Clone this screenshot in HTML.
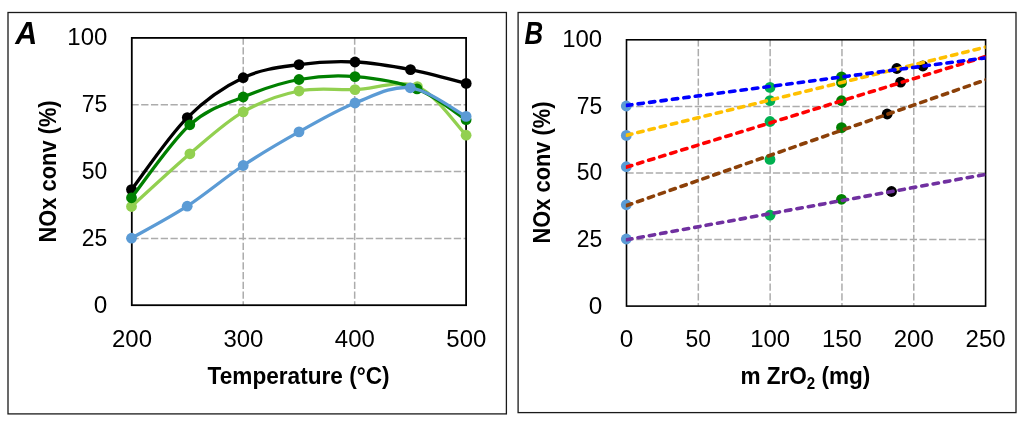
<!DOCTYPE html><html><head><meta charset="utf-8"><style>html,body{margin:0;padding:0;background:#fff;width:1024px;height:425px;overflow:hidden}svg{display:block;will-change:transform}text{font-family:"Liberation Sans", sans-serif}</style></head><body>
<svg width="1024" height="425" viewBox="0 0 1024 425">
<rect width="1024" height="425" fill="#fff"/>
<rect x="8.0" y="12.5" width="498.4" height="401.4" fill="none" stroke="#1a1a1a" stroke-width="1.3"/>
<rect x="518.1" y="12.5" width="497.9" height="400.1" fill="none" stroke="#1a1a1a" stroke-width="1.3"/>
<text x="15.2" y="43.7" font-size="30.5" font-weight="bold" font-style="italic" fill="#000">A</text>
<text x="524.6" y="43.7" font-size="30.5" font-weight="bold" font-style="italic" fill="#000" textLength="18.6" lengthAdjust="spacingAndGlyphs">B</text>
<line x1="131.80" y1="238.38" x2="466.10" y2="238.38" stroke="#acacac" stroke-width="1.5" stroke-dasharray="7.3 2.47" stroke-dashoffset="0.4"/>
<line x1="131.80" y1="171.55" x2="466.10" y2="171.55" stroke="#acacac" stroke-width="1.5" stroke-dasharray="7.3 2.47" stroke-dashoffset="0.4"/>
<line x1="131.80" y1="104.72" x2="466.10" y2="104.72" stroke="#acacac" stroke-width="1.5" stroke-dasharray="7.3 2.47" stroke-dashoffset="0.4"/>
<line x1="243.23" y1="37.90" x2="243.23" y2="305.20" stroke="#acacac" stroke-width="1.5" stroke-dasharray="7.3 2.47" stroke-dashoffset="0.4"/>
<line x1="354.67" y1="37.90" x2="354.67" y2="305.20" stroke="#acacac" stroke-width="1.5" stroke-dasharray="7.3 2.47" stroke-dashoffset="0.4"/>
<rect x="131.80" y="37.90" width="334.30" height="267.30" fill="none" stroke="#000" stroke-width="1.8"/>
<path d="M131.50,206.50 C141.23,197.72 171.28,169.57 189.90,153.80 C208.52,138.03 225.02,122.37 243.20,111.90 C261.38,101.43 280.37,94.72 299.00,91.00 C317.63,87.28 335.27,90.33 355.00,89.60 C374.73,88.87 398.88,79.00 417.40,86.60 C435.92,94.20 457.98,127.10 466.10,135.20" fill="none" stroke="#92d050" stroke-width="3.3" stroke-linejoin="round" stroke-linecap="round"/>
<circle cx="131.50" cy="206.50" r="5.4" fill="#92d050"/>
<circle cx="189.90" cy="153.80" r="5.4" fill="#92d050"/>
<circle cx="243.20" cy="111.90" r="5.4" fill="#92d050"/>
<circle cx="299.00" cy="91.00" r="5.4" fill="#92d050"/>
<circle cx="355.00" cy="89.60" r="5.4" fill="#92d050"/>
<circle cx="417.40" cy="86.60" r="5.4" fill="#92d050"/>
<circle cx="466.10" cy="135.20" r="5.4" fill="#92d050"/>
<path d="M131.50,189.60 C140.80,177.60 168.68,136.25 187.30,117.60 C205.92,98.95 224.58,86.53 243.20,77.70 C261.82,68.87 280.37,67.22 299.00,64.60 C317.63,61.98 336.42,61.17 355.00,62.00 C373.58,62.83 391.97,66.03 410.50,69.60 C429.03,73.17 456.92,81.10 466.20,83.40" fill="none" stroke="#000000" stroke-width="3.3" stroke-linejoin="round" stroke-linecap="round"/>
<circle cx="131.50" cy="189.60" r="5.4" fill="#000000"/>
<circle cx="187.30" cy="117.60" r="5.4" fill="#000000"/>
<circle cx="243.20" cy="77.70" r="5.4" fill="#000000"/>
<circle cx="299.00" cy="64.60" r="5.4" fill="#000000"/>
<circle cx="355.00" cy="62.00" r="5.4" fill="#000000"/>
<circle cx="410.50" cy="69.60" r="5.4" fill="#000000"/>
<circle cx="466.20" cy="83.40" r="5.4" fill="#000000"/>
<path d="M131.50,197.80 C141.22,185.63 171.18,141.60 189.80,124.80 C208.42,108.00 225.00,104.55 243.20,97.00 C261.40,89.45 280.37,82.90 299.00,79.50 C317.63,76.10 335.33,75.03 355.00,76.60 C374.67,78.17 398.48,81.72 417.00,88.90 C435.52,96.08 457.92,114.57 466.10,119.70" fill="none" stroke="#008000" stroke-width="3.3" stroke-linejoin="round" stroke-linecap="round"/>
<circle cx="131.50" cy="197.80" r="5.4" fill="#008000"/>
<circle cx="189.80" cy="124.80" r="5.4" fill="#008000"/>
<circle cx="243.20" cy="97.00" r="5.4" fill="#008000"/>
<circle cx="299.00" cy="79.50" r="5.4" fill="#008000"/>
<circle cx="355.00" cy="76.60" r="5.4" fill="#008000"/>
<circle cx="417.00" cy="88.90" r="5.4" fill="#008000"/>
<circle cx="466.10" cy="119.70" r="5.4" fill="#008000"/>
<path d="M131.50,238.20 C140.78,232.87 168.58,218.32 187.20,206.20 C205.82,194.08 224.57,177.88 243.20,165.50 C261.83,153.12 280.37,142.32 299.00,131.90 C317.63,121.48 336.45,110.35 355.00,103.00 C373.55,95.65 391.78,85.57 410.30,87.80 C428.82,90.03 456.80,111.63 466.10,116.40" fill="none" stroke="#5b9bd5" stroke-width="3.3" stroke-linejoin="round" stroke-linecap="round"/>
<circle cx="131.50" cy="238.20" r="5.4" fill="#5b9bd5"/>
<circle cx="187.20" cy="206.20" r="5.4" fill="#5b9bd5"/>
<circle cx="243.20" cy="165.50" r="5.4" fill="#5b9bd5"/>
<circle cx="299.00" cy="131.90" r="5.4" fill="#5b9bd5"/>
<circle cx="355.00" cy="103.00" r="5.4" fill="#5b9bd5"/>
<circle cx="410.30" cy="87.80" r="5.4" fill="#5b9bd5"/>
<circle cx="466.10" cy="116.40" r="5.4" fill="#5b9bd5"/>
<text x="107.30" y="313.00" font-size="24.3" text-anchor="end" fill="#000">0</text>
<text x="107.30" y="246.05" font-size="24.3" text-anchor="end" fill="#000" textLength="25.5" lengthAdjust="spacingAndGlyphs">25</text>
<text x="107.30" y="179.10" font-size="24.3" text-anchor="end" fill="#000" textLength="25.5" lengthAdjust="spacingAndGlyphs">50</text>
<text x="107.30" y="112.15" font-size="24.3" text-anchor="end" fill="#000" textLength="25.5" lengthAdjust="spacingAndGlyphs">75</text>
<text x="107.30" y="45.20" font-size="24.3" text-anchor="end" fill="#000" textLength="40.0" lengthAdjust="spacingAndGlyphs">100</text>
<text x="132.00" y="347.00" font-size="24.3" text-anchor="middle" fill="#000" textLength="40.0" lengthAdjust="spacingAndGlyphs">200</text>
<text x="243.43" y="347.00" font-size="24.3" text-anchor="middle" fill="#000" textLength="40.0" lengthAdjust="spacingAndGlyphs">300</text>
<text x="354.87" y="347.00" font-size="24.3" text-anchor="middle" fill="#000" textLength="40.0" lengthAdjust="spacingAndGlyphs">400</text>
<text x="466.30" y="347.00" font-size="24.3" text-anchor="middle" fill="#000" textLength="40.0" lengthAdjust="spacingAndGlyphs">500</text>
<text x="298.6" y="383.5" font-size="24.0" font-weight="bold" text-anchor="middle" fill="#000" textLength="182" lengthAdjust="spacingAndGlyphs">Temperature (°C)</text>
<text transform="translate(55.9,171.4) rotate(-90)" x="0" y="0" font-size="24.0" font-weight="bold" text-anchor="middle" fill="#000" textLength="142" lengthAdjust="spacingAndGlyphs">NOx conv (%)</text>
<line x1="626.50" y1="239.53" x2="985.60" y2="239.53" stroke="#acacac" stroke-width="1.5" stroke-dasharray="7.3 2.47" stroke-dashoffset="0.14"/>
<line x1="626.50" y1="172.95" x2="985.60" y2="172.95" stroke="#acacac" stroke-width="1.5" stroke-dasharray="7.3 2.47" stroke-dashoffset="0.14"/>
<line x1="626.50" y1="106.38" x2="985.60" y2="106.38" stroke="#acacac" stroke-width="1.5" stroke-dasharray="7.3 2.47" stroke-dashoffset="0.14"/>
<line x1="698.32" y1="39.80" x2="698.32" y2="306.10" stroke="#acacac" stroke-width="1.5" stroke-dasharray="7.3 2.47" stroke-dashoffset="0.5"/>
<line x1="770.14" y1="39.80" x2="770.14" y2="306.10" stroke="#acacac" stroke-width="1.5" stroke-dasharray="7.3 2.47" stroke-dashoffset="0.5"/>
<line x1="841.96" y1="39.80" x2="841.96" y2="306.10" stroke="#acacac" stroke-width="1.5" stroke-dasharray="7.3 2.47" stroke-dashoffset="0.5"/>
<line x1="913.78" y1="39.80" x2="913.78" y2="306.10" stroke="#acacac" stroke-width="1.5" stroke-dasharray="7.3 2.47" stroke-dashoffset="0.5"/>
<rect x="626.50" y="39.80" width="359.10" height="266.30" fill="none" stroke="#000" stroke-width="1.6"/>
<circle cx="626.30" cy="106.00" r="5.4" fill="#5b9bd5"/>
<circle cx="626.30" cy="135.40" r="5.4" fill="#5b9bd5"/>
<circle cx="626.30" cy="166.70" r="5.4" fill="#5b9bd5"/>
<circle cx="626.30" cy="204.80" r="5.4" fill="#5b9bd5"/>
<circle cx="626.30" cy="239.00" r="5.4" fill="#5b9bd5"/>
<circle cx="770.00" cy="87.40" r="5.4" fill="#00b050"/>
<circle cx="770.00" cy="100.60" r="5.4" fill="#00b050"/>
<circle cx="770.00" cy="121.50" r="5.4" fill="#00b050"/>
<circle cx="770.00" cy="159.40" r="5.4" fill="#00b050"/>
<circle cx="770.00" cy="215.20" r="5.4" fill="#00b050"/>
<circle cx="841.50" cy="76.80" r="5.4" fill="#008000"/>
<circle cx="841.50" cy="82.50" r="5.4" fill="#008000"/>
<circle cx="841.50" cy="100.70" r="5.4" fill="#008000"/>
<circle cx="841.50" cy="127.60" r="5.4" fill="#008000"/>
<circle cx="841.50" cy="199.30" r="5.4" fill="#008000"/>
<circle cx="896.80" cy="68.50" r="5.4" fill="#000000"/>
<circle cx="900.60" cy="82.10" r="5.4" fill="#000000"/>
<circle cx="922.90" cy="66.00" r="5.4" fill="#000000"/>
<circle cx="887.20" cy="114.00" r="5.4" fill="#000000"/>
<circle cx="891.50" cy="191.50" r="5.4" fill="#000000"/>
<defs><clipPath id="cb"><rect x="625.80" y="39.80" width="359.80" height="266.30"/></clipPath></defs>
<g clip-path="url(#cb)">
<line x1="626.50" y1="205.60" x2="988.60" y2="78.85" stroke="#8c4008" stroke-width="3.6" stroke-dasharray="5.4 6.14" stroke-dashoffset="-0.1" stroke-linecap="round"/>
<line x1="626.50" y1="239.80" x2="988.60" y2="173.85" stroke="#7030a0" stroke-width="3.6" stroke-dasharray="5.4 6.14" stroke-dashoffset="-0.1" stroke-linecap="round"/>
<line x1="626.50" y1="135.30" x2="988.60" y2="46.36" stroke="#ffc000" stroke-width="3.6" stroke-dasharray="5.4 6.14" stroke-dashoffset="-0.1" stroke-linecap="round"/>
<line x1="626.50" y1="167.10" x2="988.60" y2="55.58" stroke="#ff0000" stroke-width="3.6" stroke-dasharray="5.4 6.14" stroke-dashoffset="-0.1" stroke-linecap="round"/>
<line x1="626.50" y1="105.40" x2="988.60" y2="57.50" stroke="#0000ff" stroke-width="3.6" stroke-dasharray="5.4 6.14" stroke-dashoffset="-0.1" stroke-linecap="round"/>
</g>
<text x="602.20" y="313.70" font-size="24.3" text-anchor="end" fill="#000">0</text>
<text x="602.20" y="247.05" font-size="24.3" text-anchor="end" fill="#000" textLength="25.5" lengthAdjust="spacingAndGlyphs">25</text>
<text x="602.20" y="180.40" font-size="24.3" text-anchor="end" fill="#000" textLength="25.5" lengthAdjust="spacingAndGlyphs">50</text>
<text x="602.20" y="113.75" font-size="24.3" text-anchor="end" fill="#000" textLength="25.5" lengthAdjust="spacingAndGlyphs">75</text>
<text x="602.20" y="47.10" font-size="24.3" text-anchor="end" fill="#000" textLength="40.0" lengthAdjust="spacingAndGlyphs">100</text>
<text x="626.50" y="347.00" font-size="24.3" text-anchor="middle" fill="#000">0</text>
<text x="698.32" y="347.00" font-size="24.3" text-anchor="middle" fill="#000" textLength="25.5" lengthAdjust="spacingAndGlyphs">50</text>
<text x="770.14" y="347.00" font-size="24.3" text-anchor="middle" fill="#000" textLength="40.0" lengthAdjust="spacingAndGlyphs">100</text>
<text x="841.96" y="347.00" font-size="24.3" text-anchor="middle" fill="#000" textLength="40.0" lengthAdjust="spacingAndGlyphs">150</text>
<text x="913.78" y="347.00" font-size="24.3" text-anchor="middle" fill="#000" textLength="40.0" lengthAdjust="spacingAndGlyphs">200</text>
<text x="985.60" y="347.00" font-size="24.3" text-anchor="middle" fill="#000" textLength="40.0" lengthAdjust="spacingAndGlyphs">250</text>
<text x="805.4" y="384.0" font-size="24.0" font-weight="bold" text-anchor="middle" fill="#000" textLength="130" lengthAdjust="spacingAndGlyphs">m ZrO<tspan font-size="16" dy="5">2</tspan><tspan dy="-5"> (mg)</tspan></text>
<text transform="translate(550.4,172.5) rotate(-90)" x="0" y="0" font-size="24.0" font-weight="bold" text-anchor="middle" fill="#000" textLength="142" lengthAdjust="spacingAndGlyphs">NOx conv (%)</text>
</svg></body></html>
